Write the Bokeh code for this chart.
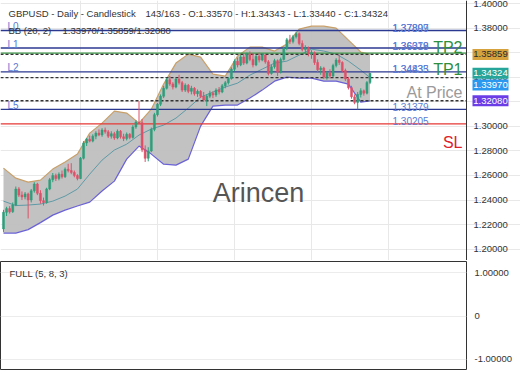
from bokeh.plotting import figure
from bokeh.layouts import column
from bokeh.models import (Range1d, Label, Grid, FixedTicker, PrintfTickFormatter,
                          CustomJSTickFormatter, ColumnDataSource)
from bokeh.core.properties import value
from bokeh.embed import file_html
from bokeh.resources import INLINE

# ---------------- data ----------------
opens = [1.2165,1.2300,1.2330,1.2305,1.2360,1.2490,1.2440,1.2425,1.2450,1.2400,
         1.2475,1.2530,1.2455,1.2395,1.2380,1.2490,1.2565,1.2600,1.2575,1.2610,
         1.2590,1.2650,1.2640,1.2625,1.2600,1.2575,1.2740,1.2865,1.2895,1.2880,
         1.2920,1.2945,1.2930,1.2970,1.2955,1.2920,1.2940,1.2905,1.2960,1.2915,
         1.2900,1.2935,1.2910,1.2995,1.3035,1.3030,1.2810,1.2740,1.2800,1.2975,
         1.3095,1.3180,1.3245,1.3310,1.3380,1.3345,1.3320,1.3385,1.3355,1.3295,
         1.3335,1.3285,1.3310,1.3265,1.3285,1.3245,1.3215,1.3245,1.3270,1.3255,
         1.3295,1.3280,1.3330,1.3355,1.3390,1.3465,1.3530,1.3500,1.3565,1.3515,
         1.3585,1.3545,1.3500,1.3570,1.3540,1.3580,1.3525,1.3430,1.3485,1.3535,
         1.3440,1.3545,1.3635,1.3705,1.3690,1.3730,1.3755,1.3675,1.3625,1.3640,
         1.3590,1.3600,1.3520,1.3460,1.3475,1.3400,1.3435,1.3410,1.3495,1.3540,
         1.3520,1.3455,1.3385,1.3315,1.3240,1.3195,1.3260,1.3290,1.3270,1.33570]
highs = [1.2320,1.2345,1.2350,1.2380,1.2510,1.2505,1.2470,1.2465,1.2460,1.2490,
         1.2545,1.2540,1.2480,1.2420,1.2500,1.2580,1.2620,1.2615,1.2625,1.2640,
         1.2665,1.2695,1.2700,1.2640,1.2610,1.2750,1.2880,1.2905,1.2925,1.2935,
         1.2960,1.2975,1.2985,1.2990,1.2970,1.2960,1.2955,1.2975,1.2970,1.2940,
         1.2950,1.2945,1.3010,1.3050,1.3205,1.3060,1.2845,1.2830,1.2990,1.3110,
         1.3190,1.3260,1.3330,1.3395,1.3410,1.3360,1.3395,1.3420,1.3370,1.3350,
         1.3345,1.3330,1.3320,1.3300,1.3295,1.3280,1.3260,1.3290,1.3285,1.3310,
         1.3320,1.3345,1.3370,1.3400,1.3480,1.3545,1.3560,1.3580,1.3590,1.3600,
         1.3610,1.3595,1.3580,1.3600,1.3595,1.3590,1.3540,1.3500,1.3550,1.3545,
         1.3560,1.3650,1.3720,1.3745,1.3745,1.3770,1.3765,1.3700,1.3660,1.3650,
         1.3620,1.3610,1.3545,1.3490,1.3485,1.3450,1.3465,1.3510,1.3555,1.3585,
         1.3530,1.3470,1.3400,1.3330,1.3260,1.3280,1.3310,1.3300,1.3370,1.34343]
lows = [1.2140,1.2270,1.2290,1.2295,1.2350,1.2425,1.2400,1.2405,1.2250,1.2380,
        1.2460,1.2440,1.2370,1.2355,1.2370,1.2480,1.2545,1.2555,1.2560,1.2575,
        1.2580,1.2625,1.2610,1.2585,1.2560,1.2570,1.2730,1.2840,1.2870,1.2870,
        1.2895,1.2920,1.2915,1.2940,1.2905,1.2900,1.2890,1.2895,1.2900,1.2880,
        1.2885,1.2895,1.2900,1.2980,1.3020,1.2790,1.2710,1.2715,1.2790,1.2960,
        1.3080,1.3165,1.3230,1.3300,1.3330,1.3300,1.3310,1.3340,1.3280,1.3280,
        1.3270,1.3260,1.3250,1.3240,1.3230,1.3200,1.3165,1.3230,1.3230,1.3240,
        1.3260,1.3270,1.3310,1.3340,1.3380,1.3450,1.3480,1.3490,1.3500,1.3505,
        1.3530,1.3480,1.3490,1.3520,1.3530,1.3510,1.3415,1.3420,1.3470,1.3410,
        1.3430,1.3535,1.3620,1.3670,1.3675,1.3715,1.3660,1.3610,1.3590,1.3570,
        1.3550,1.3500,1.3440,1.3420,1.3385,1.3380,1.3390,1.3400,1.3480,1.3500,
        1.3440,1.3370,1.3300,1.3225,1.3180,1.3138,1.3235,1.3250,1.3260,1.33440]
closes = [1.2300,1.2330,1.2305,1.2360,1.2490,1.2440,1.2425,1.2450,1.2400,1.2475,
          1.2530,1.2455,1.2395,1.2380,1.2490,1.2565,1.2600,1.2575,1.2610,1.2590,
          1.2650,1.2640,1.2625,1.2600,1.2575,1.2740,1.2865,1.2895,1.2880,1.2920,
          1.2945,1.2930,1.2970,1.2955,1.2920,1.2940,1.2905,1.2960,1.2915,1.2900,
          1.2935,1.2910,1.2995,1.3035,1.3030,1.2810,1.2740,1.2800,1.2975,1.3095,
          1.3180,1.3245,1.3310,1.3380,1.3345,1.3320,1.3385,1.3355,1.3295,1.3335,
          1.3285,1.3310,1.3265,1.3285,1.3245,1.3215,1.3245,1.3270,1.3255,1.3295,
          1.3280,1.3330,1.3355,1.3390,1.3465,1.3530,1.3500,1.3565,1.3515,1.3585,
          1.3545,1.3500,1.3570,1.3540,1.3580,1.3525,1.3430,1.3485,1.3535,1.3440,
          1.3545,1.3635,1.3705,1.3690,1.3730,1.3755,1.3675,1.3625,1.3640,1.3590,
          1.3600,1.3520,1.3460,1.3475,1.3400,1.3435,1.3410,1.3495,1.3540,1.3520,
          1.3455,1.3385,1.3315,1.3240,1.3195,1.3260,1.3290,1.3270,1.3357,1.34324]

band_idx = [0,4,8,12,16,20,24,28,32,36,40,44,48,52,56,60,64,68,72,76,80,84,88,92,96,100,104,108,112,116,119]
bb_upper = [1.2660,1.2578,1.2546,1.2562,1.2652,1.2709,1.2774,1.2945,1.3026,1.3124,1.3108,1.3026,1.3140,1.3344,1.3515,
            1.3588,1.3564,1.3425,1.3409,1.3572,1.3645,1.3645,1.3613,1.3670,1.3792,1.3816,1.3816,1.3800,1.3702,1.3605,1.35859]
bb_middle = [1.2391,1.2355,1.2359,1.2367,1.2391,1.2432,1.2489,1.2611,1.2725,1.2807,1.2855,1.2929,1.2978,1.3010,1.3067,
             1.3149,1.3238,1.3279,1.3320,1.3352,1.3417,1.3466,1.3515,1.3531,1.3580,1.3629,1.3613,1.3588,1.3531,1.3458,1.33970]
bb_lower = [1.2131,1.2131,1.2159,1.2216,1.2277,1.2318,1.2351,1.2383,1.2473,1.2554,1.2733,1.2839,1.2774,1.2692,1.2684,
            1.2733,1.3002,1.3165,1.3173,1.3173,1.3230,1.3295,1.3368,1.3401,1.3393,1.3393,1.3368,1.3368,1.3344,1.3197,1.32080]

level_names = ["L0", "L1", "L2", "L5"]
level_values = [1.37807, 1.36379, 1.34435, 1.31379]
level_texts = [["1.37807", "1.37899"], ["1.36379", "1.36018"], ["1.34435", "1.34833"], ["1.31379"]]
tp2_value = 1.3596
sl_value = 1.30205
sl_text = "1.30205"
y_ticks = [1.20, 1.22, 1.24, 1.26, 1.28, 1.30, 1.32, 1.34, 1.36, 1.38, 1.40]
osc_ticks = [-1, 0, 1]
x_grid_ticks = [25, 50, 75, 100, 125]
bb_last = {"middle": 1.33970, "upper": 1.35859, "lower": 1.32080}

FONT = "Liberation Sans"
INC = "#2e9e7a"
DEC = "#de5068"
NAVY = "#2b3990"
LBLUE = "#5a7cd6"

# layout constants (pixels per candle, left start)
PX = 3.08
X0 = -0.97
X_EDGE = X0 + 466 / PX      # price-pane right border
X_END = X0 + 520 / PX
Y0, Y1 = 1.19075, 1.40248
PRICE_PER_PX = (Y1 - Y0) / 260

n = len(closes)
idx = list(range(n))
colors = [INC if c >= o else DEC for o, c in zip(opens, closes)]
src = ColumnDataSource(dict(x=idx, o=opens, h=highs, l=lows, c=closes,
                            top=[max(o, c) for o, c in zip(opens, closes)],
                            bot=[min(o, c) for o, c in zip(opens, closes)],
                            color=colors))

p = figure(frame_width=520, frame_height=260, x_range=Range1d(X0, X_END),
           y_range=Range1d(Y0, Y1), x_axis_location=None, y_axis_location="right",
           toolbar_location=None, output_backend="svg", min_border_left=0, min_border_top=0,
           min_border_bottom=0, min_border_right=0, outline_line_color=None,
           background_fill_color="white", border_fill_color="white")
ax = p.yaxis[0]
ax.fixed_location = X_EDGE
ax.ticker = FixedTicker(ticks=y_ticks)
ax.formatter = PrintfTickFormatter(format="%.5f")
ax.major_tick_out = 0
ax.major_tick_in = 0
ax.minor_tick_out = 0
ax.minor_tick_in = 0
ax.axis_line_color = "#333333"
ax.major_label_text_font = FONT
ax.major_label_text_font_size = "9.5px"
ax.major_label_text_color = "#333333"
ax.major_label_standoff = 7
p.ygrid.grid_line_color = "#e8e8e8"
p.ygrid.bounds = (X0, X_EDGE)
p.xgrid.visible = False
p.add_layout(Grid(dimension=0, ticker=FixedTicker(ticks=x_grid_ticks), grid_line_color="#e8e8e8"))

# Bollinger bands
p.varea(x=band_idx, y1=bb_lower, y2=bb_upper, fill_color="#bfbfbf", fill_alpha=0.95)
p.line(band_idx, bb_upper, line_color="#c9a06a", line_width=1.2)
p.line(band_idx, bb_lower, line_color="#6b62d6", line_width=1.2)
p.line(band_idx, bb_middle, line_color="#5e9aa6", line_width=1)


def hline(v, color, dash="solid"):
    p.segment(x0=[X0], y0=[v], x1=[X_EDGE], y1=[v], line_color=color, line_width=1.4,
              line_dash=dash)


for v in level_values:
    hline(v, NAVY)
hline(tp2_value, "#3c9a48")
hline(sl_value, "#e53935")
for v in bb_last.values():
    hline(v, "#333333", "3 2")

# candles
p.segment(x0="x", y0="l", x1="x", y1="h", color="color", line_width=1, source=src)
p.vbar(x="x", width=0.65, top="top", bottom="bot", fill_color="color", line_color="color",
       line_width=0.5, source=src)


def lab(fig, text, x, y, size, color, align="left", baseline="middle", y_units="screen",
        y_offset=0, **kw):
    fig.add_layout(Label(x=x, y=y, x_units="screen", y_units=y_units, text=text,
                         text_font=FONT, text_font_size=size, text_color=color,
                         text_align=align, text_baseline=baseline, y_offset=y_offset, **kw))


# level labels
for name, v, texts in zip(level_names, level_values, level_texts):
    lab(p, name, 7, v, "10px", LBLUE, baseline="alphabetic", y_units="data", y_offset=4)
    for t in texts:
        lab(p, t, 392, v, "10px", LBLUE, baseline="alphabetic", y_units="data", y_offset=2.5)
lab(p, sl_text, 392, sl_value, "10px", LBLUE, baseline="alphabetic", y_units="data", y_offset=2.5)

lab(p, "TP2", 462, level_values[1], "16px", "#2e8f3e", align="right", baseline="alphabetic",
    y_units="data", y_offset=0.5)
lab(p, "TP1", 462, level_values[2], "16px", "#2e8f3e", align="right", baseline="alphabetic",
    y_units="data", y_offset=2)
lab(p, "At Price", 462, bb_last["middle"], "16px", "#9a9a9a", align="right",
    baseline="alphabetic", y_units="data", y_offset=-15.4)
lab(p, "SL", 462, sl_value, "16px", "#e0202a", align="right", baseline="alphabetic",
    y_units="data", y_offset=-18.7)

# watermark
lab(p, "Arincen", 258, 260 - 192, "27px", "#555555", align="center")

# headers
lab(p, "GBPUSD - Daily - Candlestick", 8, 260 - 12.5, "9.5px", "#333333")
lab(p, "143/163 - O:%.5f - H:%.5f - L:%.5f - C:%.5f" % (opens[-1], highs[-1], lows[-1], closes[-1]),
    145, 260 - 12.5, "9.5px", "#333333")
lab(p, "BB (20, 2)", 8, 260 - 30, "9.5px", "#333333")
lab(p, "%.5f/%.5f/%.5f" % (bb_last["middle"], bb_last["upper"], bb_last["lower"]),
    62, 260 - 30, "9.5px", "#333333")

# price boxes on the axis (current price and band values), drawn above the axis labels
box_vals = [bb_last["upper"], closes[-1], bb_last["middle"], bb_last["lower"]]
box_fill = ["#d6a23e", "#26a69a", "#2b98f0", "#6a3de6"]
box_text_color = ["#2b2b2b", "white", "white", "white"]
box_shift_px = [0, 0, 7.4, 0]     # pushed down to avoid overlap
box_x = X0 + 490 / PX
box_y = [v - s * PRICE_PER_PX for v, s in zip(box_vals, box_shift_px)]
p.rect(x=[box_x] * 4, y=box_y, width=36, height=11, width_units="screen",
       height_units="screen", fill_color=box_fill, line_color=None, level="overlay")
p.text(x=[box_x] * 4, y=box_y, text=["%.5f" % v for v in box_vals], text_color=box_text_color,
       text_align="center", text_baseline="middle", text_font=value(FONT),
       text_font_size="9.5px", level="overlay")

# ---------------- oscillator pane ----------------
p2 = figure(frame_width=466, frame_height=108, x_range=Range1d(X0, X_EDGE),
            y_range=Range1d(-1.23, 1.253),
            x_axis_location=None, y_axis_location="right", toolbar_location=None,
            output_backend="svg", min_border_left=0, min_border_top=1, min_border_bottom=20,
            min_border_right=0, outline_line_color="#333333", background_fill_color="white",
            border_fill_color="white")
p2.yaxis.ticker = FixedTicker(ticks=osc_ticks)
p2.yaxis.formatter = CustomJSTickFormatter(code="return tick == 0 ? '0' : tick.toFixed(5);")
p2.yaxis.major_tick_out = 0
p2.yaxis.major_tick_in = 0
p2.yaxis.minor_tick_out = 0
p2.yaxis.axis_line_color = None
p2.yaxis.major_label_text_font = FONT
p2.yaxis.major_label_text_font_size = "9.5px"
p2.yaxis.major_label_text_color = "#333333"
p2.yaxis.major_label_standoff = 8
p2.ygrid.grid_line_color = "#ececec"
p2.xgrid.visible = False
p2.line([0, n - 1], [0, 0], line_alpha=0)
lab(p2, "FULL (5, 8, 3)", 9, 108 - 12, "9.5px", "#333333")

layout = column(p, p2, spacing=0)
open("out.html", "w").write(file_html(layout, INLINE))
